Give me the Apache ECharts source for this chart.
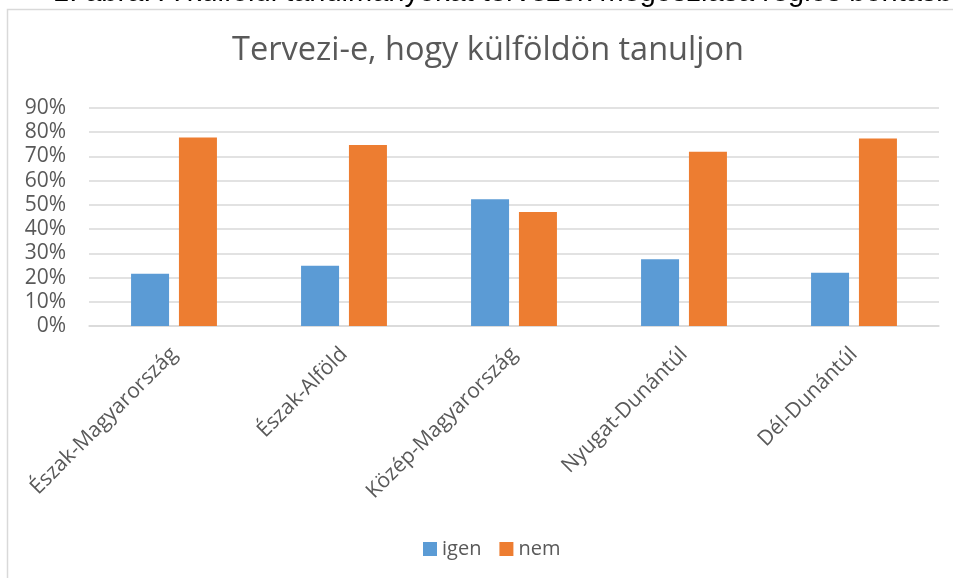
<!DOCTYPE html>
<html><head><meta charset="utf-8">
<script src="https://cdn.jsdelivr.net/npm/echarts@6/dist/echarts.min.js"></script>
<style>html,body{margin:0;padding:0;background:#fff}#c{width:953px;height:578px}</style>
</head><body><div id="c"></div>
<script>
const categories = ['Észak-Magyarország', 'Észak-Alföld', 'Közép-Magyarország', 'Nyugat-Dunántúl', 'Dél-Dunántúl'];
const igen = [21.6, 24.9, 52.3, 27.6, 22.0];
const nem = [77.8, 74.7, 47.1, 71.9, 77.4];
const seriesNames = ['igen', 'nem'];
const titleText = 'Tervezi-e, hogy külföldön tanuljon';
const captionText = '1. ábra: A külföldi tanulmányokat tervezők megoszlása régiós bontásban';

const chart = echarts.init(document.getElementById('c'), null, {renderer: 'canvas'});
const font = '"Open Sans", sans-serif';
chart.setOption({
  animation: false,
  backgroundColor: '#fff',
  title: {
    text: titleText, left: 483, textAlign: 'center', top: 29,
    textStyle: {fontFamily: font, fontSize: 32.5, fontWeight: 'normal', color: '#595959'}
  },
  graphic: [
    {type: 'rect', shape: {x: 7.5, y: 9.5, width: 1000, height: 700}, style: {fill: 'none', stroke: '#d9d9d9', lineWidth: 1.5}, silent: true},
    {type: 'text', left: 53, top: -21.5, style: {text: captionText, font: '29px "Liberation Sans", Arial, sans-serif', fill: '#000'}}
  ],
  legend: {
    data: seriesNames, top: 534, left: 418,
    itemWidth: 14, itemHeight: 14, itemGap: 18,
    icon: 'rect',
    textStyle: {fontFamily: font, fontSize: 20, color: '#595959'}
  },
  grid: {left: 89, right: 14, top: 108, bottom: 252, containLabel: false},
  xAxis: {
    type: 'category', data: categories,
    axisLine: {lineStyle: {color: '#d9d9d9', width: 1.5}},
    axisTick: {show: false},
    axisLabel: {rotate: 45, interval: 0, margin: 25, fontFamily: font, fontSize: 21, color: '#595959'}
  },
  yAxis: {
    type: 'value', min: 0, max: 90, interval: 10,
    axisLine: {show: false}, axisTick: {show: false},
    splitLine: {lineStyle: {color: '#d9d9d9', width: 1.5}},
    axisLabel: {formatter: '{value}%', margin: 23, fontFamily: font, fontSize: 21, color: '#595959'}
  },
  series: [
    {name: seriesNames[0], type: 'bar', data: igen, barWidth: 38, barGap: '26%', itemStyle: {color: '#5b9bd5'}},
    {name: seriesNames[1], type: 'bar', data: nem, barWidth: 38, itemStyle: {color: '#ed7d31'}}
  ]
});
</script></body></html>
